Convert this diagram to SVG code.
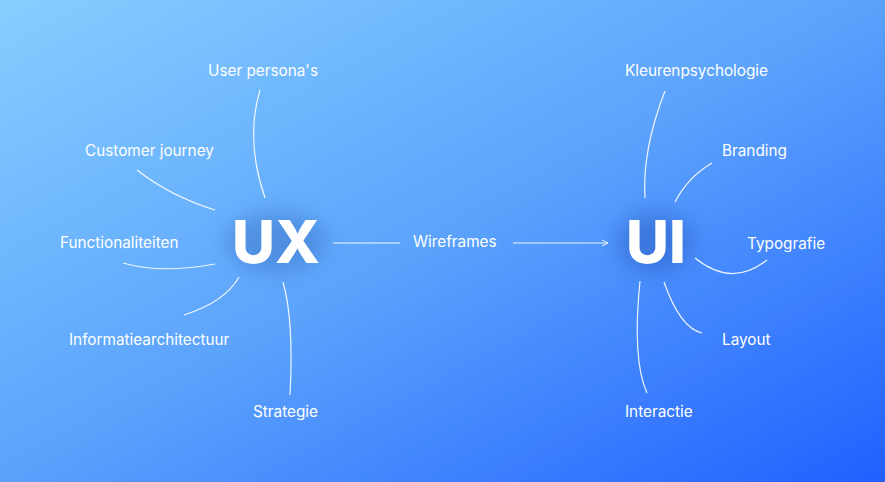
<svg xmlns="http://www.w3.org/2000/svg" width="885" height="482" viewBox="0 0 885 482">
<defs>
<linearGradient id="bg" x1="0" y1="0" x2="1" y2="1">
<stop offset="0" stop-color="#86CFFF"/><stop offset="0.5" stop-color="#5BA2FC"/><stop offset="1" stop-color="#2160FF"/>
</linearGradient>
<filter id="sh" x="-50%" y="-50%" width="200%" height="200%"><feGaussianBlur stdDeviation="10"/></filter>
<marker id="ah" markerWidth="8" markerHeight="8" refX="7" refY="4" orient="auto" markerUnits="userSpaceOnUse"><path d="M1,1 L7,4 L1,7" fill="none" stroke="#fff" stroke-width="1"/></marker>
<style>
.l{font-family:Inter,"Liberation Sans",sans-serif;font-size:15.3px;fill:#fff}
.big{font-family:Inter,"Liberation Sans",sans-serif;font-weight:800;font-size:59px;fill:#fff}
.c{fill:none;stroke:#fff;stroke-width:1.2;opacity:0.9}
</style>
</defs>
<rect width="885" height="482" fill="url(#bg)"/>
<g id="ux"><ellipse cx="276" cy="242" rx="50" ry="30" fill="#2a5fb0" opacity="0.35" filter="url(#sh)"/><text class="big" x="232" y="263">UX</text></g>
<g id="ui"><ellipse cx="655" cy="242" rx="38" ry="30" fill="#1d47a8" opacity="0.35" filter="url(#sh)"/><text class="big" x="626" y="263">UI</text></g>
<g id="labels">
<text class="l" x="208" y="76">User persona's</text>
<text class="l" x="85" y="156">Customer journey</text>
<text class="l" x="60" y="248">Functionaliteiten</text>
<text class="l" x="69" y="345">Informatiearchitectuur</text>
<text class="l" x="253" y="417">Strategie</text>
<text class="l" x="413" y="247">Wireframes</text>
<text class="l" x="625" y="76">Kleurenpsychologie</text>
<text class="l" x="722" y="156">Branding</text>
<text class="l" x="747" y="249">Typografie</text>
<text class="l" x="722" y="345">Layout</text>
<text class="l" x="625" y="417">Interactie</text>
</g>
<g id="connectors">
<path class="c" d="M260,90 Q245,140 265,198"/>
<path class="c" d="M137,170 Q170,196 215,210"/>
<path class="c" d="M123,263 Q160,274 215,264"/>
<path class="c" d="M184,315 Q225,302 239,277"/>
<path class="c" d="M283,282 Q294,320 290,395"/>
<path class="c" d="M665,91 Q642,150 645,198"/>
<path class="c" d="M712,163 Q688,177 675,202"/>
<path class="c" d="M695,258 Q732,288 767,260"/>
<path class="c" d="M664,282 Q680,328 702,333"/>
<path class="c" d="M640,281 Q632,360 647,393"/>
<path class="c" d="M333,243 H400"/>
<path class="c" d="M513,243 H608" marker-end="url(#ah)"/>
</g>
</svg>
